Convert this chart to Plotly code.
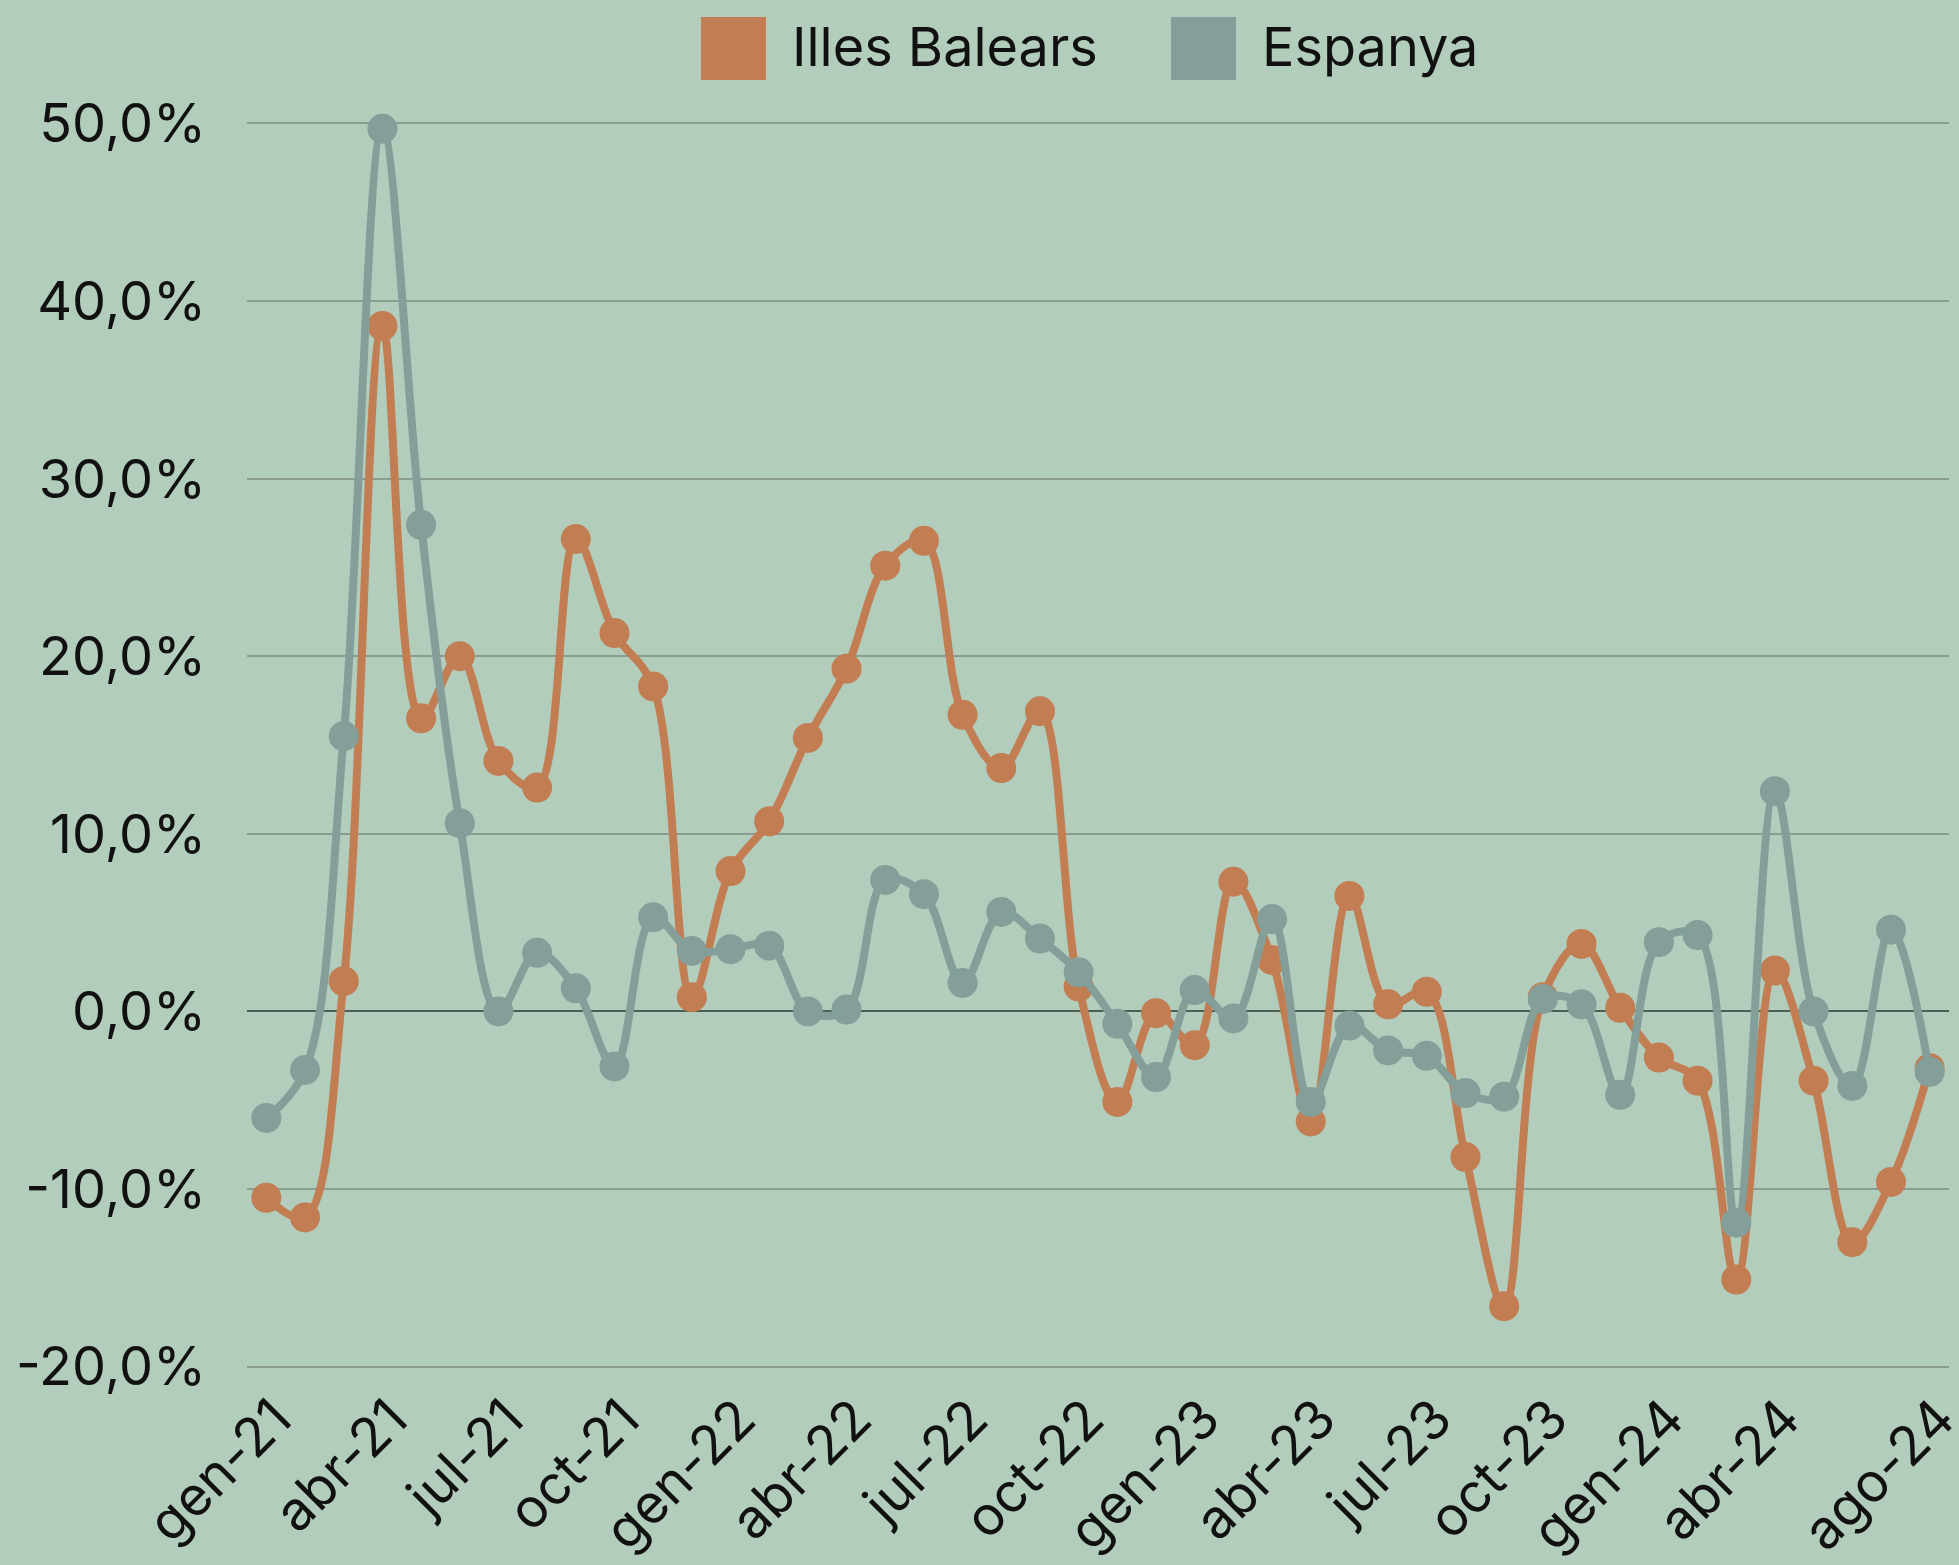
import plotly.graph_objects as go

months = ["gen", "feb", "mar", "abr", "mai", "jun", "jul", "ago", "set", "oct", "nov", "des"]
categories = [f"{m}-{y}" for y in ["21", "22", "23", "24"] for m in months][:44]

illes_balears = [-10.5, -11.6, 1.7, 38.6, 16.5, 20.0, 14.1, 12.6, 26.6, 21.3, 18.3, 0.8,
                 7.9, 10.7, 15.4, 19.3, 25.1, 26.5, 16.7, 13.7, 16.9, 1.4, -5.1, -0.1,
                 -1.9, 7.3, 2.9, -6.2, 6.5, 0.4, 1.1, -8.2, -16.6, 0.8, 3.8, 0.2,
                 -2.6, -3.9, -15.1, 2.3, -3.9, -13.0, -9.6, -3.2]
espanya = [-6.0, -3.3, 15.5, 49.7, 27.4, 10.6, 0.0, 3.3, 1.3, -3.1, 5.3, 3.4,
           3.5, 3.7, 0.0, 0.1, 7.4, 6.6, 1.6, 5.6, 4.1, 2.2, -0.7, -3.7,
           1.2, -0.4, 5.2, -5.1, -0.8, -2.2, -2.5, -4.6, -4.8, 0.7, 0.4, -4.7,
           3.9, 4.3, -11.9, 12.4, 0.0, -4.2, 4.6, -3.4]

tick_labels = ["gen-21", "abr-21", "jul-21", "oct-21", "gen-22", "abr-22", "jul-22", "oct-22",
               "gen-23", "abr-23", "jul-23", "oct-23", "gen-24", "abr-24", "ago-24"]
y_ticks = [-20, -10, 0, 10, 20, 30, 40, 50]

ORANGE = "#C27D53"
GREY = "#849F9A"
BG = "#B2CDBB"
FONT = "Inter, Lato, sans-serif"
FS = 54

fig = go.Figure()
for name, vals, col in [("Illes Balears", illes_balears, ORANGE), ("Espanya", espanya, GREY)]:
    fig.add_trace(go.Scatter(
        x=categories, y=vals, name=name, mode="lines+markers",
        line=dict(color=col, width=8, shape="spline", smoothing=1.0),
        marker=dict(color=col, size=30),
        showlegend=False, cliponaxis=False, hoverinfo="skip",
    ))

# legend drawn as swatches + labels (paper coords above the plot area)
legend_items = [("Illes Balears", ORANGE, 0.2667), ("Espanya", GREY, 0.5429)]
for label, col, xp in legend_items:
    fig.add_shape(type="rect", xref="paper", yref="paper",
                  x0=xp, x1=xp + 0.0382, y0=1.0337, y1=1.0843,
                  fillcolor=col, line=dict(width=0), layer="above")
    fig.add_annotation(text=label, xref="paper", yref="paper", x=xp + 0.0523, y=1.0602,
                       xanchor="left", yanchor="middle", showarrow=False,
                       font=dict(family=FONT, size=FS, color="#111111"))

fig.update_layout(
    width=1959, height=1565,
    paper_bgcolor=BG, plot_bgcolor=BG,
    margin=dict(l=247, r=10, t=122, b=197, autoexpand=False),
    font=dict(family=FONT, size=FS, color="#111111"),
    xaxis=dict(
        type="category", range=[-0.5, 43.5], automargin=False,
        tickmode="array", tickvals=[categories[i] for i in list(range(0, 42, 3)) + [43]],
        ticktext=tick_labels, tickangle=-45, showgrid=False, showline=False,
        ticks="", ticklabelstandoff=7, ticklabelshift=9,
        tickfont=dict(family=FONT, size=FS, color="#111111"),
    ),
    yaxis=dict(
        range=[-20.08, 50.08], tickmode="array", tickvals=y_ticks, automargin=False,
        ticktext=[f"{v},0%" for v in y_ticks],
        showgrid=True, gridcolor="#8A9C90", gridwidth=2,
        zeroline=True, zerolinecolor="#4E5E54", zerolinewidth=2,
        showline=False, ticks="", ticklabelstandoff=40,
        tickfont=dict(family=FONT, size=FS, color="#111111"),
    ),
)

fig.write_html("out.html", config={"displayModeBar": False},
               post_script="document.body.style.margin='0';document.body.style.padding='0';")
